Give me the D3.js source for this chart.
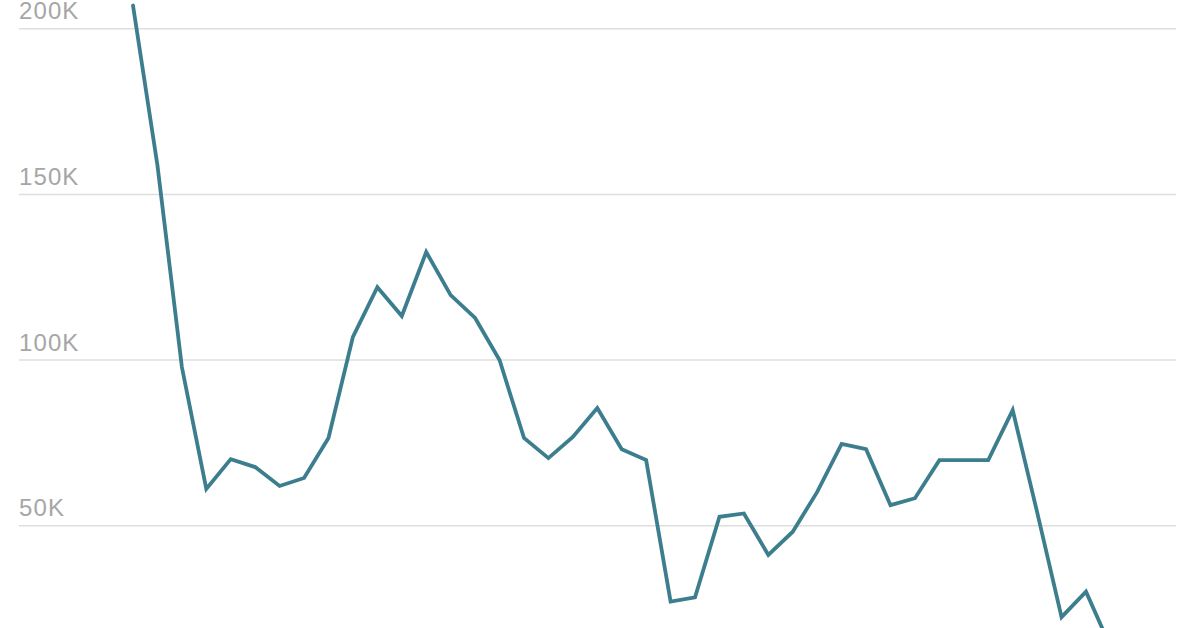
<!DOCTYPE html>
<html>
<head>
<meta charset="utf-8">
<script src="https://cdn.jsdelivr.net/npm/d3@7"></script>
<style>
  html, body { margin: 0; padding: 0; background: #fff; }
  svg { display: block; }
</style>
</head>
<body>
<svg id="chart" width="1200" height="628"></svg>
<script>
const values = [207, 158.8, 97.9, 61.1, 70.1, 67.7, 62.0, 64.4, 76.5, 107.0,
  122.0, 113.3, 132.6, 119.6, 112.7, 100.0, 76.5, 70.4, 76.8, 85.5,
  73.1, 69.8, 27.1, 28.4, 52.7, 53.7, 41.2, 48.2, 60.2, 74.7,
  73.1, 56.2, 58.3, 69.8, 69.8, 69.8, 84.9, 54.1, 22.4, 30.1, 13.5].map(v => v * 1000);
const tickValues = [50000, 100000, 150000, 200000];
const tickLabels = ["50K", "100K", "150K", "200K"];

const W = 1200, H = 628;
const svg = d3.select("#chart");

const x = d3.scaleLinear().domain([0, 39]).range([133, 1086]);
const y = d3.scaleLinear().domain([0, 200000]).range([691.4, 28.7]);

// gridlines
svg.append("g").selectAll("line")
  .data(tickValues).join("line")
  .attr("x1", 19).attr("x2", 1176)
  .attr("y1", d => y(d)).attr("y2", d => y(d))
  .attr("stroke", "#dedede").attr("stroke-width", 1.5);

// labels
svg.append("g").selectAll("text")
  .data(tickValues).join("text")
  .attr("x", 19).attr("y", d => y(d) - 9.5)
  .attr("fill", "#a6a6a6")
  .attr("font-family", "'Liberation Sans', Arial, sans-serif")
  .attr("font-size", 24)
  .attr("letter-spacing", 1.1)
  .attr("font-weight", 400)
  .text((d, i) => tickLabels[i]);

// line
const line = d3.line().x((d, i) => x(i)).y(d => y(d));
svg.append("path")
  .datum(values)
  .attr("d", line)
  .attr("fill", "none")
  .attr("stroke", "#3c7e8e")
  .attr("stroke-width", 3.8)
  .attr("stroke-linejoin", "miter")
  .attr("stroke-linecap", "round");
</script>
</body>
</html>
